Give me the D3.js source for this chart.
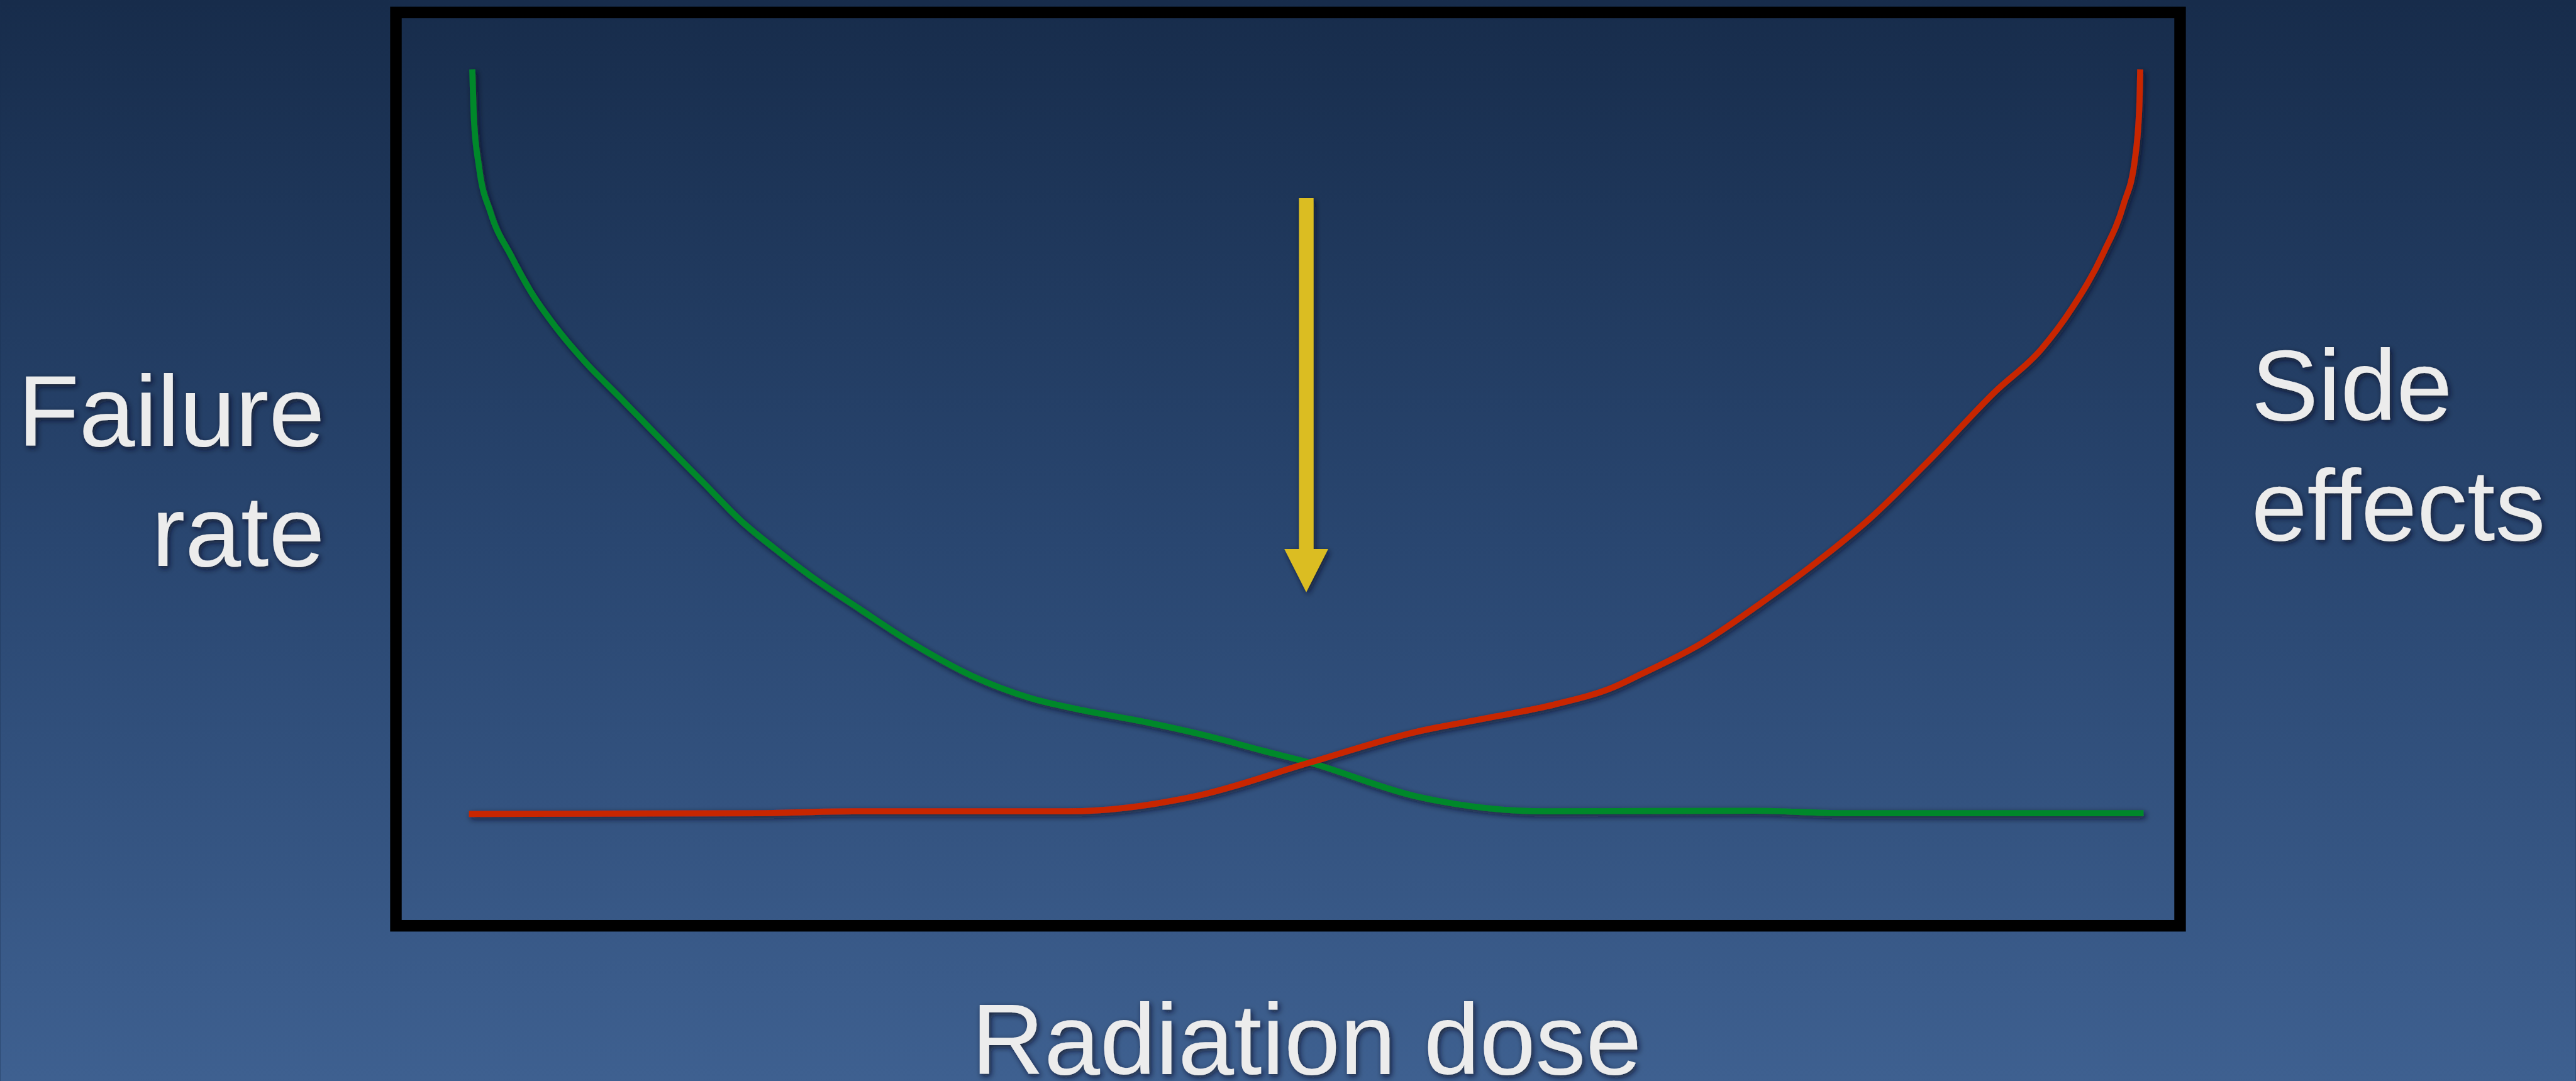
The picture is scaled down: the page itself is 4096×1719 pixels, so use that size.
<!DOCTYPE html>
<html>
<head>
<meta charset="utf-8">
<script src="https://cdn.jsdelivr.net/npm/d3@7"></script>
<style>
  html, body { margin: 0; padding: 0; background: #182d4d; overflow: hidden; }
  svg { display: block; }
</style>
</head>
<body>
<div id="chart"></div>
<script>
// dose (0-100) vs. relative effect (0-100)
const failureDose = [0.2, 0.3, 0.6, 1.3, 2.5, 3.7, 5.2, 6.8, 9.1, 11.6, 14.1, 16.2, 18.3, 20.4, 23.3, 26.5, 30.0, 33.5, 36.3, 40.5, 44.6, 47.4, 50.2, 56.5, 64.3, 76.8, 82.0, 100];
const failureRate = [100, 93.2, 86.9, 80.7, 75.0, 70.1, 65.3, 61.0, 55.7, 49.9, 44.2, 39.4, 35.5, 31.9, 27.5, 22.8, 18.5, 15.5, 14.0, 12.2, 10.1, 8.4, 6.8, 2.3, 0.25, 0.33, 0, 0];

const sideDose = [0, 17.4, 22.9, 35.8, 43.4, 50.2, 56.5, 61.3, 64.8, 68.3, 70.0, 73.5, 77.0, 80.9, 83.7, 87.4, 91.1, 93.9, 95.7, 97.6, 98.8, 99.5, 99.75, 99.8];
const sideEffects = [-0.1, 0, 0.25, 0.25, 2.3, 6.8, 10.9, 13.0, 14.6, 16.9, 18.7, 22.7, 28.0, 34.5, 39.7, 47.9, 56.6, 62.4, 67.8, 75.3, 81.8, 88.2, 95.2, 100];

// optimum dose marker
const optimumDose = 50;
const arrowFrom = 82.7;
const arrowTo = 29.7;

const labels = {
  left: ["Failure", "rate"],
  right: ["Side", "effects"],
  bottom: "Radiation dose"
};

// reference drawn at 4231x1776, shown at 4096x1719
const W = 4231, H = 1776;
const svg = d3.select("#chart").append("svg")
  .attr("width", 4096)
  .attr("height", 1719)
  .attr("viewBox", `0 0 ${W} ${H}`);

const defs = svg.append("defs");
const grad = defs.append("linearGradient")
  .attr("id", "bg").attr("x1", 0).attr("y1", 0).attr("x2", 0).attr("y2", 1);
grad.append("stop").attr("offset", "0%").attr("stop-color", "#172c4b");
grad.append("stop").attr("offset", "50%").attr("stop-color", "#294670");
grad.append("stop").attr("offset", "100%").attr("stop-color", "#3e6090");

const shadow = defs.append("filter")
  .attr("id", "shadow")
  .attr("x", "-20%").attr("y", "-20%").attr("width", "140%").attr("height", "140%");
shadow.append("feDropShadow")
  .attr("dx", 3).attr("dy", 4)
  .attr("stdDeviation", 5)
  .attr("flood-color", "#0b1422")
  .attr("flood-opacity", 0.75);

svg.append("rect")
  .attr("width", W).attr("height", H)
  .attr("fill", "url(#bg)");

const x = d3.scaleLinear().domain([0, 100]).range([770, 3521]);
const y = d3.scaleLinear().domain([0, 100]).range([1336, 114]);

// frame
svg.append("rect")
  .attr("x", 650).attr("y", 20.5)
  .attr("width", 2931).attr("height", 1500.5)
  .attr("fill", "none")
  .attr("stroke", "#000")
  .attr("stroke-width", 19);

const line = d3.line()
  .x(d => x(d[0]))
  .y(d => y(d[1]))
  .curve(d3.curveMonotoneX);

const curves = [
  { pts: d3.zip(failureDose, failureRate), color: "#00882c" },
  { pts: d3.zip(sideDose, sideEffects), color: "#c82506" }
];

const cg = svg.append("g").attr("filter", "url(#shadow)");
curves.forEach(c => {
  cg.append("path")
    .attr("d", line(c.pts))
    .attr("fill", "none")
    .attr("stroke", c.color)
    .attr("stroke-width", 10)
    .attr("stroke-linejoin", "round");
});

// arrow
const ax = x(optimumDose), shaftW = 24, headW = 72, headH = 71;
const yTop = y(arrowFrom), yTip = y(arrowTo), yHead = yTip - headH;
const arrow = d3.path();
arrow.moveTo(ax - shaftW / 2, yTop);
arrow.lineTo(ax + shaftW / 2, yTop);
arrow.lineTo(ax + shaftW / 2, yHead);
arrow.lineTo(ax + headW / 2, yHead);
arrow.lineTo(ax, yTip);
arrow.lineTo(ax - headW / 2, yHead);
arrow.lineTo(ax - shaftW / 2, yHead);
arrow.closePath();
svg.append("path")
  .attr("d", arrow.toString())
  .attr("fill", "#dbbd22")
  .attr("filter", "url(#shadow)");

// labels
const tg = svg.append("g")
  .attr("font-family", "'Liberation Sans', Arial, Helvetica, sans-serif")
  .attr("font-size", 165)
  .attr("fill", "#ececec")
  .attr("filter", "url(#shadow)");

labels.left.forEach((t, i) => {
  tg.append("text")
    .attr("x", 533).attr("y", 733 + i * 197)
    .attr("text-anchor", "end")
    .text(t);
});

labels.right.forEach((t, i) => {
  tg.append("text")
    .attr("x", 3698).attr("y", 690 + i * 197)
    .attr("text-anchor", "start")
    .text(t);
});

tg.append("text")
  .attr("x", 2146).attr("y", 1765)
  .attr("text-anchor", "middle")
  .text(labels.bottom);
</script>
</body>
</html>
